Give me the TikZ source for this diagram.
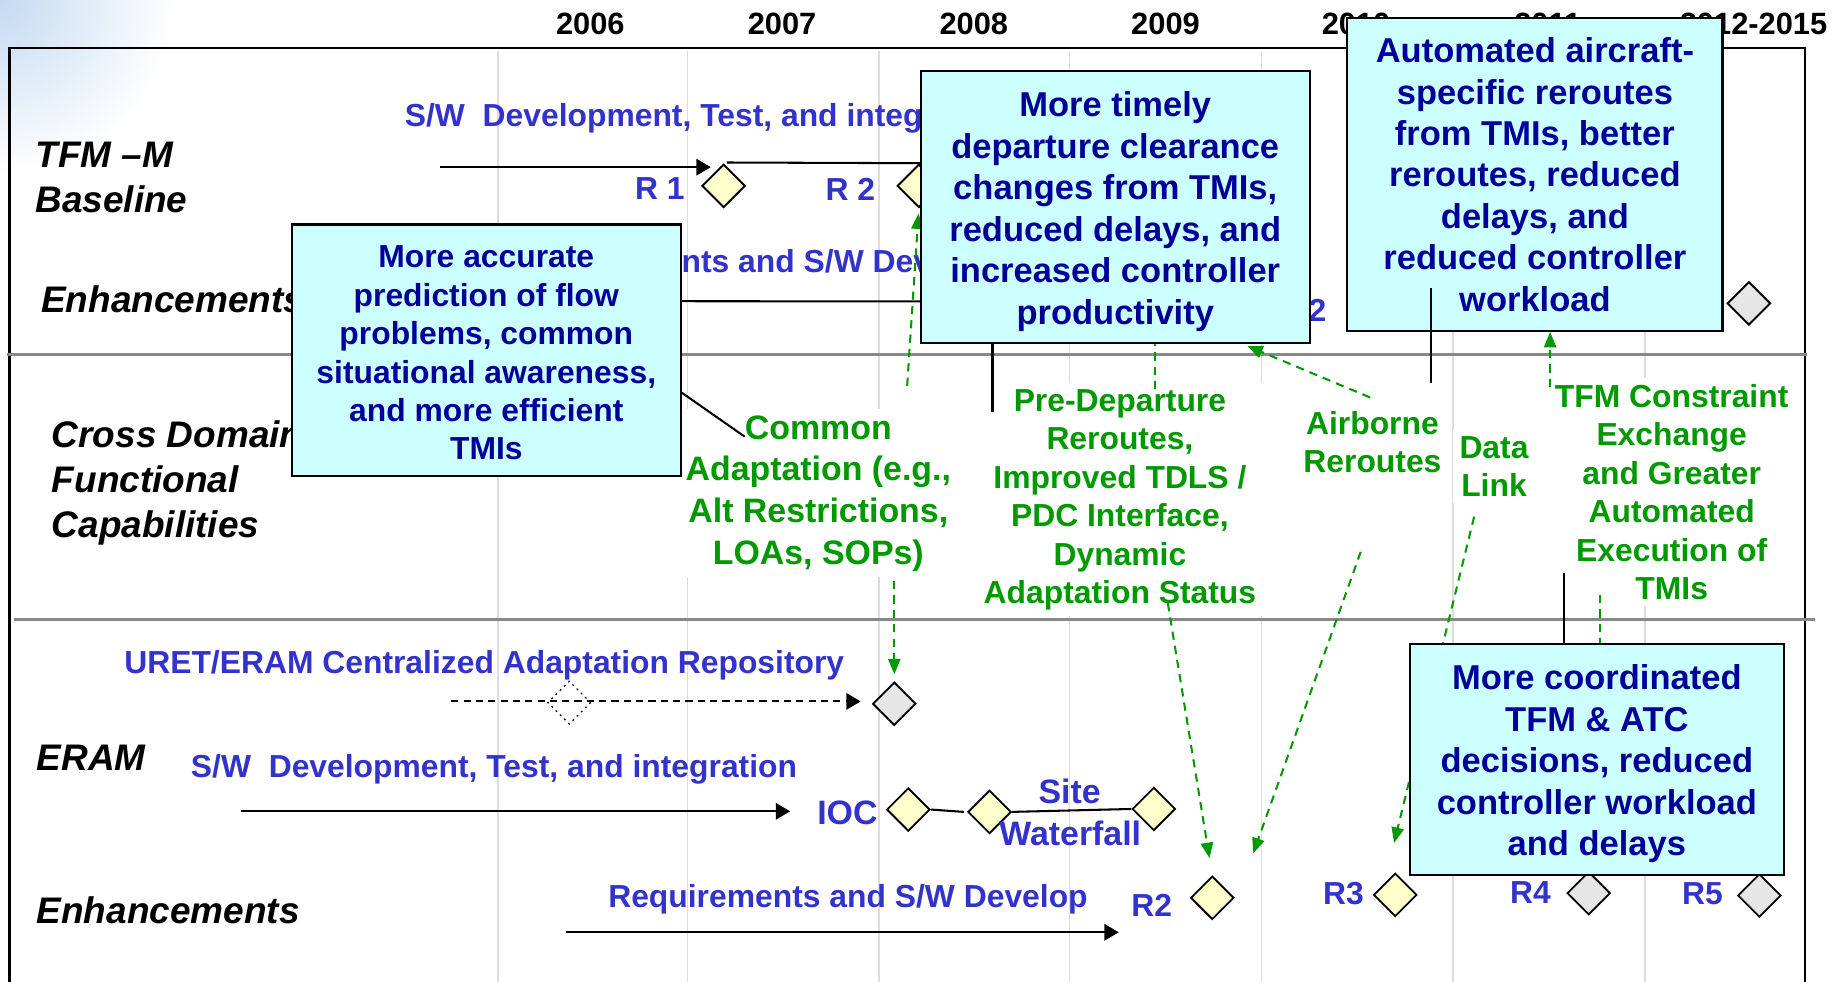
\documentclass[tikz,border=0pt]{standalone}
\usepackage{fontspec}
\setmainfont{Liberation Sans}
\usepackage{xcolor}
\usepackage{tikz}
\usetikzlibrary{shapes.geometric,arrows.meta,positioning,calc}

\definecolor{taskblue}{RGB}{51,51,204}
\definecolor{benefittext}{RGB}{0,0,153}
\definecolor{benefitfill}{RGB}{204,255,255}
\definecolor{capgreen}{RGB}{0,153,0}
\definecolor{relyellow}{RGB}{255,255,204}
\definecolor{relgray}{RGB}{230,230,230}
\definecolor{gridgray}{RGB}{220,220,220}
\definecolor{sepgray}{RGB}{136,136,136}
\definecolor{slideblue}{RGB}{196,218,242}

% strut that pushes a box text down
\newcommand{\boxdrop}[1]{\rule{0pt}{#1}}

\tikzset{
    yearlabel/.style={anchor=base, inner sep=0pt, font=\fontsize{15}{18}\selectfont\bfseries},
    rowlabel/.style={anchor=west, align=left, inner sep=0pt, font=\fontsize{18}{21.8}\selectfont\bfseries\itshape},
    tasklabel/.style={text=taskblue, inner sep=0pt, font=\fontsize{15.5}{18}\selectfont\bfseries},
    sitelabel/.style={text=taskblue, inner sep=0pt, font=\fontsize{16.5}{20}\selectfont\bfseries},
    release/.style={diamond, draw, line width=0.9pt, fill=relyellow, minimum width=0.74cm, minimum height=0.74cm, inner sep=0pt},
    later/.style={release, fill=relgray},
    planned/.style={release, fill=none, dotted, line width=0.6pt},
    capability/.style={text=capgreen, fill=white, align=center, inner sep=3pt, font=\fontsize{15.5}{18.7}\selectfont\bfseries},
    benefit/.style={draw, line width=1pt, fill=benefitfill, text=benefittext, align=center, inner sep=0pt, font=\fontsize{16.8}{20.2}\selectfont\bfseries},
    flow/.style={line width=1pt, -{Triangle[length=7pt,width=8pt]}},
    feeds/.style={capgreen, line width=1pt, dash pattern=on 4pt off 3pt, -{Triangle[length=7.5pt,width=6pt]}},
    feedline/.style={capgreen, line width=1pt, dash pattern=on 4pt off 3pt},
    callout/.style={line width=1pt}
}

\begin{document}
\begin{tikzpicture}[x=0.02cm, y=-0.02cm]
    \clip (0,0) rectangle (1568,840);
    % slide background
    \shade[inner color=slideblue, outer color=white] (0,0) circle (150);
    % year grid
    \foreach \gx in {426,588,752,915,1079,1243,1407}
        \draw[gridgray, line width=0.8pt] (\gx,44) -- (\gx,840);
    \foreach \yr/\yx in {2006/505,2007/669,2008/833,2009/997,2010/1160,2011/1324,2012-2015/1500}
        \node[yearlabel] (y\yx) at (\yx,29.5) {\yr};
    % frame and row separators
    \draw[line width=1.3pt] (8,860) -- (8,41) -- (1544,41) -- (1544,860);
    \draw[sepgray, line width=1.5pt] (6,303.5) -- (1546,303.5);
    \draw[sepgray, line width=1.5pt] (12,530) -- (1553,530);

    % row labels
    \node[rowlabel] (tfmm) at (30,152) {TFM –M\\Baseline};
    \node[rowlabel] (tfmenh) at (35,256) {Enhancements};
    \node[rowlabel] (xdom) at (44,413) {Cross Domain\\Functional\\Capabilities};
    \node[rowlabel] (eram) at (31,648.5) {ERAM};
    \node[rowlabel] (eramenh) at (31,779) {Enhancements};

    % TFM-M baseline
    \node[tasklabel, anchor=base west] (tfmdev) at (346,108) {S/W\ \ Development, Test, and integration};
    \coordinate (tfmstart) at (376,143);
    \coordinate (tfmend) at (608,143);
    \draw[flow] (tfmstart) -- (tfmend);
    \node[release] (tr1) at (619,159) {};
    \node[tasklabel, anchor=base east] (tr1lab) at (586,170.5) {R 1};
    \coordinate (tr1out) at (622,139);
    \coordinate (tr2in) at (900,140);
    \draw[line width=1pt] (tr1out) -- (tr2in);
    \node[release] (tr2) at (786,159) {};
    \node[tasklabel, anchor=base east] (tr2lab) at (749,171.5) {R 2};

    % TFM-M enhancements
    \node[tasklabel, anchor=base west] (tfmreq) at (442,233) {Requirements and S/W Development};
    \coordinate (enhstart) at (400,257.5);
    \coordinate (enhend) at (1000,258);
    \draw[line width=1pt] (enhstart) -- (enhend);
    \node[tasklabel, anchor=base east] (enr2lab) at (1135,275) {R 2};
    \node[later] (enr3) at (1496,259.5) {};

    % ERAM
    \node[tasklabel, anchor=base west] (uretlab) at (106,576) {URET/ERAM Centralized Adaptation Repository};
    \node[later] (uret) at (765,602) {};
    \coordinate (uretstart) at (386,600);
    \draw[flow, dash pattern=on 3.5pt off 2.5pt, shorten >=5.4pt] (uretstart) -- (uretstart -| uret.west);
    \node[planned] (uretplan) at (487,601) {};
    \node[tasklabel, anchor=base west] (eramdev) at (163,665) {S/W\ \ Development, Test, and integration};
    \node[sitelabel, anchor=base east] (ioclab) at (751,705) {IOC};
    \coordinate (eramstart) at (206,694);
    \draw[flow, shorten >=13pt] (eramstart) -- (eramstart -| ioclab.west);
    \node[release] (ioc) at (777,692.5) {};
    \node[release] (site1) at (846.5,694.5) {};
    \node[release] (site2) at (987,692) {};
    \draw[line width=1pt] (ioc.east) -- ([xshift=-1.5pt]site1.west);
    \draw[line width=1pt] (site1.east) -- (site2.west);
    \node[sitelabel, anchor=base] (sitelab) at (915,687) {Site};
    \node[sitelabel, anchor=base] (waterlab) at (915.5,723) {Waterfall};

    % ERAM enhancements
    \node[tasklabel, anchor=base west] (eramreq) at (520,776) {Requirements and S/W Develop};
    \coordinate (eramenhstart) at (484,797.5);
    \coordinate (eramenhend) at (957,797.5);
    \draw[flow] (eramenhstart) -- (eramenhend);
    \node[release] (er2) at (1037,768) {};
    \node[tasklabel, anchor=base east] (er2lab) at (1003,784) {R2};
    \node[release] (er3) at (1193.5,765.5) {};
    \node[tasklabel, anchor=base east] (er3lab) at (1167,774) {R3};
    \node[later] (er4) at (1359,764) {};
    \node[tasklabel, anchor=base east] (er4lab) at (1327,773) {R4};
    \node[later] (er5) at (1505,766) {};
    \node[tasklabel, anchor=base east] (er5lab) at (1474,773.5) {R5};

    % cross domain capabilities
    \node[capability, font=\fontsize{16.5}{20.3}\selectfont\bfseries] (common) at (700,422) {Common\\Adaptation (e.g.,\\Alt Restrictions,\\LOAs, SOPs)};
    \node[capability] (predep) at (958,427.5) {Pre-Departure\\Reroutes,\\Improved TDLS /\\PDC Interface,\\Dynamic\\Adaptation Status};
    \node[capability] (airborne) at (1174,378) {Airborne\\Reroutes};
    \node[capability] (datalink) at (1278,399) {Data\\Link};
    \node[capability] (constraint) at (1430,421) {TFM Constraint\\Exchange\\and Greater\\Automated\\Execution of\\TMIs};

    % capability feeds
    \coordinate (commonup) at (776,330);
    \coordinate (commondown) at (765,497);
    \coordinate (predepup) at (988,333);
    \coordinate (predepdown) at (999,516);
    \coordinate (airup) at (1172,340);
    \coordinate (airtip) at (1067,296);
    \coordinate (airdown) at (1164,472);
    \coordinate (airtip2) at (1072,730);
    \coordinate (linkdown) at (1261,442);
    \coordinate (linktip) at (1192.5,721);
    \coordinate (conup) at (1326,331);
    \coordinate (condown) at (1369,509);
    \draw[feeds, shorten >=2.5pt] (commonup) -- (tr2.south);
    \draw[feeds, shorten >=3.4pt] (commondown) -- (uret.north);
    \draw[feeds, shorten >=8.5pt] (predepdown) -- (er2.north);
    \draw[feeds] (airdown) -- (airtip2);
    \draw[feeds] (linkdown) -- (linktip);
    \draw[feeds] (airup) -- (airtip);

    % benefit boxes
    \node[benefit, font=\fontsize{15.5}{18.7}\selectfont\bfseries, minimum width=6.66cm, minimum height=4.3cm] (boxA) at (416,299.5) {\boxdrop{13.5pt}More accurate\\prediction of flow\\problems, common\\situational awareness,\\and more efficient\\TMIs};
    \node[benefit, minimum width=6.65cm, minimum height=4.65cm] (boxB) at (954,177) {\boxdrop{16.8pt}More timely\\departure clearance\\changes from TMIs,\\reduced delays, and\\increased controller\\productivity};
    \node[benefit, minimum width=6.42cm, minimum height=5.35cm] (boxC) at (1313,149.4) {Automated aircraft-\\specific reroutes\\from TMIs, better\\reroutes, reduced\\delays, and\\reduced controller\\workload};
    \node[benefit, minimum width=6.4cm, minimum height=3.95cm] (boxD) at (1366,650) {\boxdrop{16.2pt}More coordinated\\TFM \& ATC\\decisions, reduced\\controller workload\\and delays};

    \draw[feedline] (predepup) -- (predepup |- boxB.south);
    \draw[feeds] (conup) -- (conup |- boxC.south);
    \draw[feedline] (condown) -- (condown |- boxD.north);

    % callouts
    \coordinate (acall) at (637,373.5);
    \coordinate (bcall) at (849,352);
    \coordinate (ccall) at (1224,246);
    \coordinate (ccallend) at (1224,328);
    \coordinate (dcall) at (1338,490);
    \draw[callout] (boxA.east |- 0,336) -- (acall);
    \draw[callout] (bcall |- boxB.south) -- (bcall);
    \draw[callout] (ccall) -- (ccallend);
    \draw[callout] (dcall) -- (dcall |- boxD.north);
\end{tikzpicture}
\end{document}
